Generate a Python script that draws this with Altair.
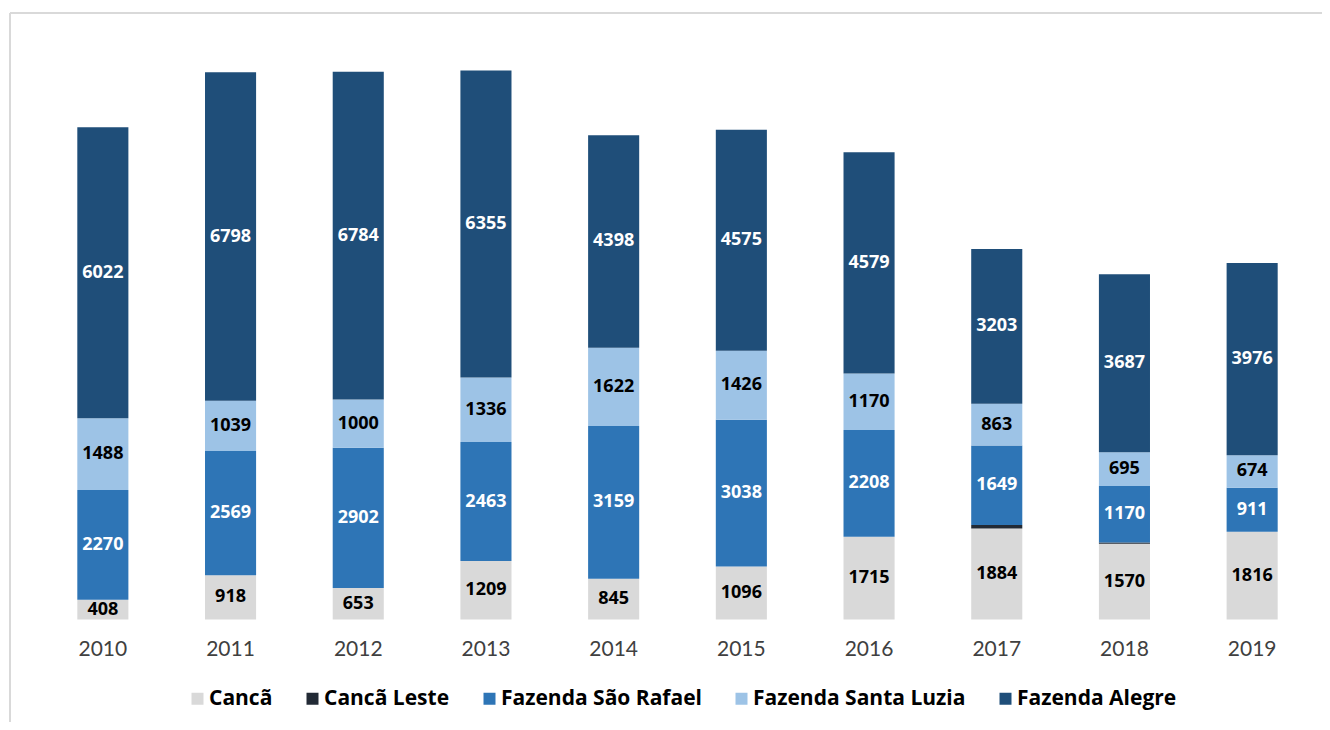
import altair as alt
import pandas as pd

years = ["2010", "2011", "2012", "2013", "2014", "2015", "2016", "2017", "2018", "2019"]
series_names = ["Cancã", "Cancã Leste", "Fazenda São Rafael", "Fazenda Santa Luzia", "Fazenda Alegre"]
series_colors = ["#D9D9D9", "#222A35", "#2E75B6", "#9DC3E6", "#1F4E79"]
label_colors = ["black", "none", "white", "black", "white"]

canca = [408, 918, 653, 1209, 845, 1096, 1715, 1884, 1570, 1816]
canca_leste = [0, 0, 0, 0, 0, 0, 0, 70, 25, 0]
sao_rafael = [2270, 2569, 2902, 2463, 3159, 3038, 2208, 1649, 1170, 911]
santa_luzia = [1488, 1039, 1000, 1336, 1622, 1426, 1170, 863, 695, 674]
alegre = [6022, 6798, 6784, 6355, 4398, 4575, 4579, 3203, 3687, 3976]

all_series = [canca, canca_leste, sao_rafael, santa_luzia, alegre]

rows = []
for si, (name, vals) in enumerate(zip(series_names, all_series)):
    for y, v in zip(years, vals):
        rows.append({"year": y, "series": name, "value": v, "order": si, "tc": label_colors[si]})
df = pd.DataFrame(rows)

W, H = 1312, 709

x_scale = alt.Scale(domain=years, range=[29, 1306], paddingInner=0.6, paddingOuter=0.3)
y_scale = alt.Scale(domain=[0, 12000], range=[606.5, 26.7], nice=False, zero=True)

base = alt.Chart(df).transform_stack(
    stack="value", as_=["y0", "y1"], groupby=["year"],
    sort=[alt.SortField("order", order="ascending")]
).transform_calculate(mid="(datum.y0 + datum.y1) / 2")

bars = base.transform_filter("datum.value > 0").mark_bar().encode(
    x=alt.X("year:N", scale=x_scale, title=None,
            axis=alt.Axis(orient="bottom", offset=-102.5, domain=False, ticks=False, grid=False,
                          labelPadding=19, labelFont="Lato", labelFontSize=21,
                          labelColor="#404040", labelAngle=0)),
    y=alt.Y("y0:Q", scale=y_scale, axis=None),
    y2="y1:Q",
    color=alt.Color("series:N", scale=alt.Scale(domain=series_names, range=series_colors),
                    legend=alt.Legend(orient="none", legendX=177, legendY=675, direction="horizontal",
                                      columns=5, title=None, symbolType="square", symbolSize=144,
                                      symbolStrokeWidth=0, labelFont="Open Sans", labelFontWeight="bold",
                                      labelFontSize=21, labelColor="black", columnPadding=29,
                                      labelOffset=1, labelLimit=400)),
)

labels = base.transform_filter("datum.tc != 'none'").mark_text(
    font="Open Sans", fontWeight="bold", fontSize=18, baseline="middle", align="center"
).encode(
    x=alt.X("year:N", scale=x_scale),
    y=alt.Y("mid:Q", scale=y_scale),
    text=alt.Text("value:Q", format="d"),
    color=alt.condition("datum.tc == 'white'", alt.value("white"), alt.value("black")),
)

frame_df = pd.DataFrame({"k": [0]})
top_line = alt.Chart(frame_df).mark_rule(color="#D9D9D9", strokeWidth=2).encode(
    x=alt.value(0), x2=alt.value(W), y=alt.value(0))
left_line = alt.Chart(frame_df).mark_rule(color="#D9D9D9", strokeWidth=2).encode(
    x=alt.value(0), y=alt.value(0), y2=alt.value(H))

chart = alt.layer(top_line, left_line, bars, labels).properties(
    width=W, height=H, autosize="none",
    padding={"left": 2, "top": 5, "right": 0, "bottom": 0},
).configure_view(stroke=None).configure(background="white")

chart.save("out.html", embed_options={"renderer": "svg", "actions": False})
